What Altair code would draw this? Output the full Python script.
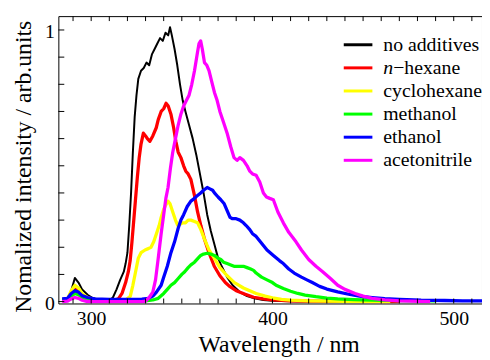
import altair as alt
import pandas as pd

series_names = ["no additives", "n-hexane", "cyclohexane", "methanol", "ethanol", "acetonitrile"]
legend_italic = ["", "n", "", "", "", ""]
legend_rest = ["no additives", "−hexane", "cyclohexane", "methanol", "ethanol", "acetonitrile"]
series_colors = ["#000000", "#ff0000", "#ffff00", "#00ff00", "#0000ff", "#ff00ff"]
series_widths = [2, 3.3, 3.3, 3.3, 3.3, 3.3]

black_x = [284, 287, 289, 291, 293, 295, 298, 301, 305, 310, 312, 314, 316, 318, 319, 320, 321, 322, 323, 324, 325, 326, 327.5, 329, 330.5, 332, 333.5, 335, 336.5, 338, 339.5, 341, 342.5, 343.5, 344.5, 346, 347.5, 349, 350.5, 352, 354, 356, 358, 360, 362, 364, 366, 368, 370, 372, 375, 378, 382, 386, 390, 395, 400, 410, 420]
black_y = [0.01, 0.012, 0.04, 0.087, 0.07, 0.045, 0.025, 0.012, 0.007, 0.005, 0.015, 0.045, 0.08, 0.11, 0.14, 0.18, 0.28, 0.40, 0.55, 0.68, 0.76, 0.82, 0.85, 0.86, 0.88, 0.87, 0.91, 0.93, 0.95, 0.97, 0.96, 0.99, 0.98, 1.01, 0.98, 0.93, 0.87, 0.80, 0.74, 0.70, 0.65, 0.60, 0.54, 0.47, 0.40, 0.32, 0.26, 0.21, 0.16, 0.13, 0.09, 0.06, 0.035, 0.02, 0.012, 0.006, 0.003, 0.001, 0.0]

red_x = [284, 287, 289, 291, 293, 295, 298, 302, 306, 312, 315, 317, 319, 320.5, 321.5, 322.5, 323.5, 324.5, 325.5, 326.5, 327.5, 328.8, 330, 331, 332.4, 334, 335.9, 337, 338.6, 340, 341.3, 342.5, 344, 345.5, 346.7, 348, 349.5, 351, 352.2, 353.5, 355, 357, 358.7, 360.5, 362.5, 365, 367.9, 371, 374, 376.6, 380, 385, 389.6, 395, 400, 410, 420, 440, 470]
red_y = [0.005, 0.008, 0.03, 0.045, 0.04, 0.025, 0.012, 0.005, 0.003, 0.003, 0.01, 0.03, 0.07, 0.11, 0.15, 0.22, 0.30, 0.38, 0.46, 0.53, 0.58, 0.62, 0.61, 0.60, 0.59, 0.61, 0.64, 0.67, 0.70, 0.71, 0.73, 0.72, 0.69, 0.64, 0.59, 0.55, 0.53, 0.50, 0.48, 0.47, 0.45, 0.39, 0.33, 0.28, 0.23, 0.18, 0.13, 0.095, 0.07, 0.055, 0.04, 0.027, 0.016, 0.01, 0.006, 0.003, 0.002, 0.001, 0.0]

yellow_x = [284, 287, 289, 291, 293, 295, 298, 302, 306, 315, 319, 321.6, 323, 324.5, 326, 327.5, 329.7, 331.5, 333, 334.5, 336, 337.5, 338.6, 340, 341.5, 342.4, 343.5, 345, 346.5, 347.8, 349, 350.5, 352, 353.5, 355, 357, 358.7, 360.5, 362.5, 365, 367.9, 371, 375, 379, 384, 391, 396, 400, 405, 410, 420, 440, 465]
yellow_y = [0.005, 0.01, 0.04, 0.06, 0.05, 0.03, 0.015, 0.006, 0.003, 0.003, 0.006, 0.02, 0.06, 0.11, 0.16, 0.18, 0.19, 0.195, 0.20, 0.22, 0.25, 0.28, 0.31, 0.34, 0.36, 0.37, 0.36, 0.33, 0.30, 0.28, 0.285, 0.29, 0.29, 0.30, 0.30, 0.295, 0.29, 0.265, 0.23, 0.19, 0.16, 0.125, 0.095, 0.07, 0.05, 0.03, 0.02, 0.014, 0.008, 0.005, 0.003, 0.001, 0.0]

green_x = [284, 287, 289, 291, 293, 295, 298, 302, 310, 320, 330, 334, 337, 340, 342, 344, 346, 348, 350, 351.6, 353.5, 355, 357, 359, 360.4, 362, 364, 366, 368, 370, 371.5, 373, 375, 377, 378.8, 381, 384, 386, 388, 389.6, 391, 394, 397, 400, 402, 406, 410, 414, 418, 424, 430, 436, 445, 455, 470, 490]
green_y = [0.005, 0.008, 0.02, 0.03, 0.025, 0.015, 0.008, 0.004, 0.002, 0.002, 0.003, 0.006, 0.012, 0.03, 0.045, 0.06, 0.07, 0.085, 0.10, 0.11, 0.125, 0.135, 0.145, 0.16, 0.17, 0.175, 0.178, 0.175, 0.17, 0.16, 0.155, 0.145, 0.14, 0.135, 0.13, 0.13, 0.13, 0.125, 0.12, 0.115, 0.105, 0.09, 0.08, 0.07, 0.06, 0.048, 0.038, 0.03, 0.024, 0.018, 0.013, 0.01, 0.007, 0.005, 0.004, 0.003]

blue_x = [284, 287, 289, 291, 293, 295, 298, 302, 310, 320, 328, 331.5, 334, 336, 338.6, 340, 342, 344, 346, 348, 349.5, 351, 353, 355, 357, 358.5, 360.4, 362, 364, 365.5, 367, 368, 370, 371.5, 373.4, 375, 376.6, 378, 380, 382, 384, 385.5, 387.5, 389, 391, 394, 397, 400.5, 404, 406, 409, 412, 416, 419, 422, 426, 430, 436, 442, 448, 455, 462, 470, 482, 495, 505, 516]
blue_y = [0.01, 0.012, 0.03, 0.04, 0.035, 0.022, 0.015, 0.01, 0.008, 0.008, 0.009, 0.012, 0.02, 0.035, 0.06, 0.09, 0.13, 0.18, 0.22, 0.27, 0.30, 0.32, 0.35, 0.37, 0.38, 0.39, 0.40, 0.41, 0.42, 0.415, 0.41, 0.40, 0.385, 0.375, 0.36, 0.335, 0.31, 0.305, 0.305, 0.30, 0.29, 0.28, 0.265, 0.25, 0.24, 0.215, 0.19, 0.17, 0.15, 0.14, 0.12, 0.105, 0.09, 0.08, 0.07, 0.056, 0.046, 0.036, 0.027, 0.02, 0.015, 0.011, 0.008, 0.005, 0.004, 0.003, 0.003]

magenta_x = [284, 287, 289, 291, 293, 295, 298, 320, 328, 330, 332, 334, 335.5, 337, 338.6, 340, 341.2, 342.4, 343.7, 345, 346.5, 348, 349.5, 351, 352.5, 354, 355.5, 357, 358.7, 359.5, 360.4, 361.3, 362.5, 363.8, 365, 366.5, 368, 369.5, 371, 373, 375, 377, 378.8, 380.5, 382, 384, 386, 387.5, 389, 391, 393, 395, 396.7, 398.5, 400.5, 403, 406, 409, 413, 416, 420, 424, 427.7, 432, 436, 440, 445.6, 450, 455, 462, 470, 487]
magenta_y = [0.0, 0.002, 0.01, 0.015, 0.012, 0.005, 0.0, 0.0, 0.0, 0.002, 0.015, 0.035, 0.08, 0.16, 0.25, 0.32, 0.38, 0.42, 0.49, 0.55, 0.60, 0.65, 0.69, 0.72, 0.74, 0.76, 0.80, 0.85, 0.92, 0.95, 0.96, 0.93, 0.88, 0.87, 0.85, 0.81, 0.77, 0.74, 0.70, 0.66, 0.62, 0.57, 0.53, 0.52, 0.53, 0.52, 0.50, 0.48, 0.47, 0.465, 0.44, 0.40, 0.385, 0.38, 0.375, 0.33, 0.29, 0.255, 0.22, 0.19, 0.155, 0.13, 0.11, 0.085, 0.06, 0.045, 0.03, 0.02, 0.012, 0.006, 0.003, 0.0]

x_tick_values = list(range(290, 520, 10))
y_tick_values = [0.0, 0.1, 0.2, 0.3, 0.4, 0.5, 0.6, 0.7, 0.8, 0.9, 1.0]
x_label_values = [300, 400, 500]
y_label_values = [0, 1]

all_x = [black_x, red_x, yellow_x, green_x, blue_x, magenta_x]
all_y = [black_y, red_y, yellow_y, green_y, blue_y, magenta_y]

rows = []
for i, (name, xs, ys) in enumerate(zip(series_names, all_x, all_y)):
    for j, (xv, yv) in enumerate(zip(xs, ys)):
        rows.append({"series": name, "idx": j, "wl": xv, "val": yv,
                     "sw": series_widths[i], "col": series_colors[i]})
df = pd.DataFrame(rows)

leg = pd.DataFrame({"row": list(range(len(series_names))), "col": series_colors,
                    "ital": legend_italic, "rest": legend_rest})

W, H = 429, 291
FONT = "Liberation Serif"
xdom = [281.9, 515.6]
ydom = [-0.007, 1.051]

xscale = alt.Scale(domain=xdom, nice=False, zero=False)
yscale = alt.Scale(domain=ydom, nice=False, zero=False)
legscale = alt.Scale(domain=[0, 5], range=[29, 146], nice=False, zero=False)

x_axis = alt.Axis(title="Wavelength / nm", values=x_label_values, format="d", ticks=False,
                  grid=False, domain=False, labelFont=FONT, labelFontSize=20,
                  labelColor="black", labelPadding=5, titleFont=FONT, titleFontSize=24,
                  titleFontWeight="normal", titleColor="black", titlePadding=5, titleX=223)

lines = alt.Chart(df).mark_line(clip=True, strokeJoin="round").encode(
    x=alt.X("wl:Q", scale=xscale, axis=x_axis, title="Wavelength / nm"),
    y=alt.Y("val:Q", scale=yscale,
            axis=alt.Axis(title="Nomalized intensity / arb.units", values=y_label_values,
                          format="d", ticks=False, grid=False, domain=False, labelFont=FONT,
                          labelFontSize=20, labelColor="black", labelPadding=4, labelOffset=2,
                          titleFont=FONT, titleFontSize=24, titleFontWeight="normal",
                          titleColor="black", titlePadding=9, titleY=152)),
    color=alt.Color("col:N", scale=None, legend=None),
    strokeWidth=alt.StrokeWidth("sw:Q", scale=None, legend=None),
    detail="series:N",
    order="idx:Q",
)

xt = pd.DataFrame({"t": x_tick_values})
yt = pd.DataFrame({"t": y_tick_values})

bottom_ticks = alt.Chart(xt).mark_rule(color="black", strokeWidth=1).encode(
    x=alt.X("t:Q", scale=xscale, axis=x_axis, title="Wavelength / nm"),
    y=alt.value(H), y2=alt.value(H - 5))
top_ticks = alt.Chart(xt).mark_rule(color="black", strokeWidth=1).encode(
    x=alt.X("t:Q", scale=xscale, axis=x_axis, title="Wavelength / nm"),
    y=alt.value(0), y2=alt.value(5))
left_ticks = alt.Chart(yt).mark_rule(color="black", strokeWidth=1).encode(
    y=alt.Y("t:Q", scale=yscale, axis=None), x=alt.value(0), x2=alt.value(6))

leg_lines = alt.Chart(leg).mark_rule(strokeWidth=3).encode(
    y=alt.Y("row:Q", scale=legscale, axis=None),
    x=alt.value(289), x2=alt.value(318),
    color=alt.Color("col:N", scale=None, legend=None))
leg_ital = alt.Chart(leg).mark_text(align="left", baseline="middle", font=FONT, fontSize=20,
                                    fontStyle="italic", color="black").encode(
    y=alt.Y("row:Q", scale=legscale, axis=None), x=alt.value(329), text="ital:N")
leg_plain = alt.Chart(leg).transform_calculate(
    xo="datum.ital == '' ? 329 : 339"
).mark_text(align="left", baseline="middle", font=FONT, fontSize=20, color="black").encode(
    y=alt.Y("row:Q", scale=legscale, axis=None),
    x=alt.X("xo:Q", scale=None, axis=None), text="rest:N")

chart = alt.layer(lines, bottom_ticks, top_ticks, left_ticks,
                  leg_lines, leg_ital, leg_plain).resolve_scale(
    y="independent"
).resolve_axis(x="shared").properties(
    width=W, height=H,
    autosize=alt.AutoSizeParams(type="none"),
    padding={"left": 51, "top": 6, "right": 0, "bottom": 55},
).configure(background="white", font=FONT).configure_view(stroke="black", strokeWidth=1)

chart.save("out.html", embed_options={"renderer": "svg", "actions": False})
